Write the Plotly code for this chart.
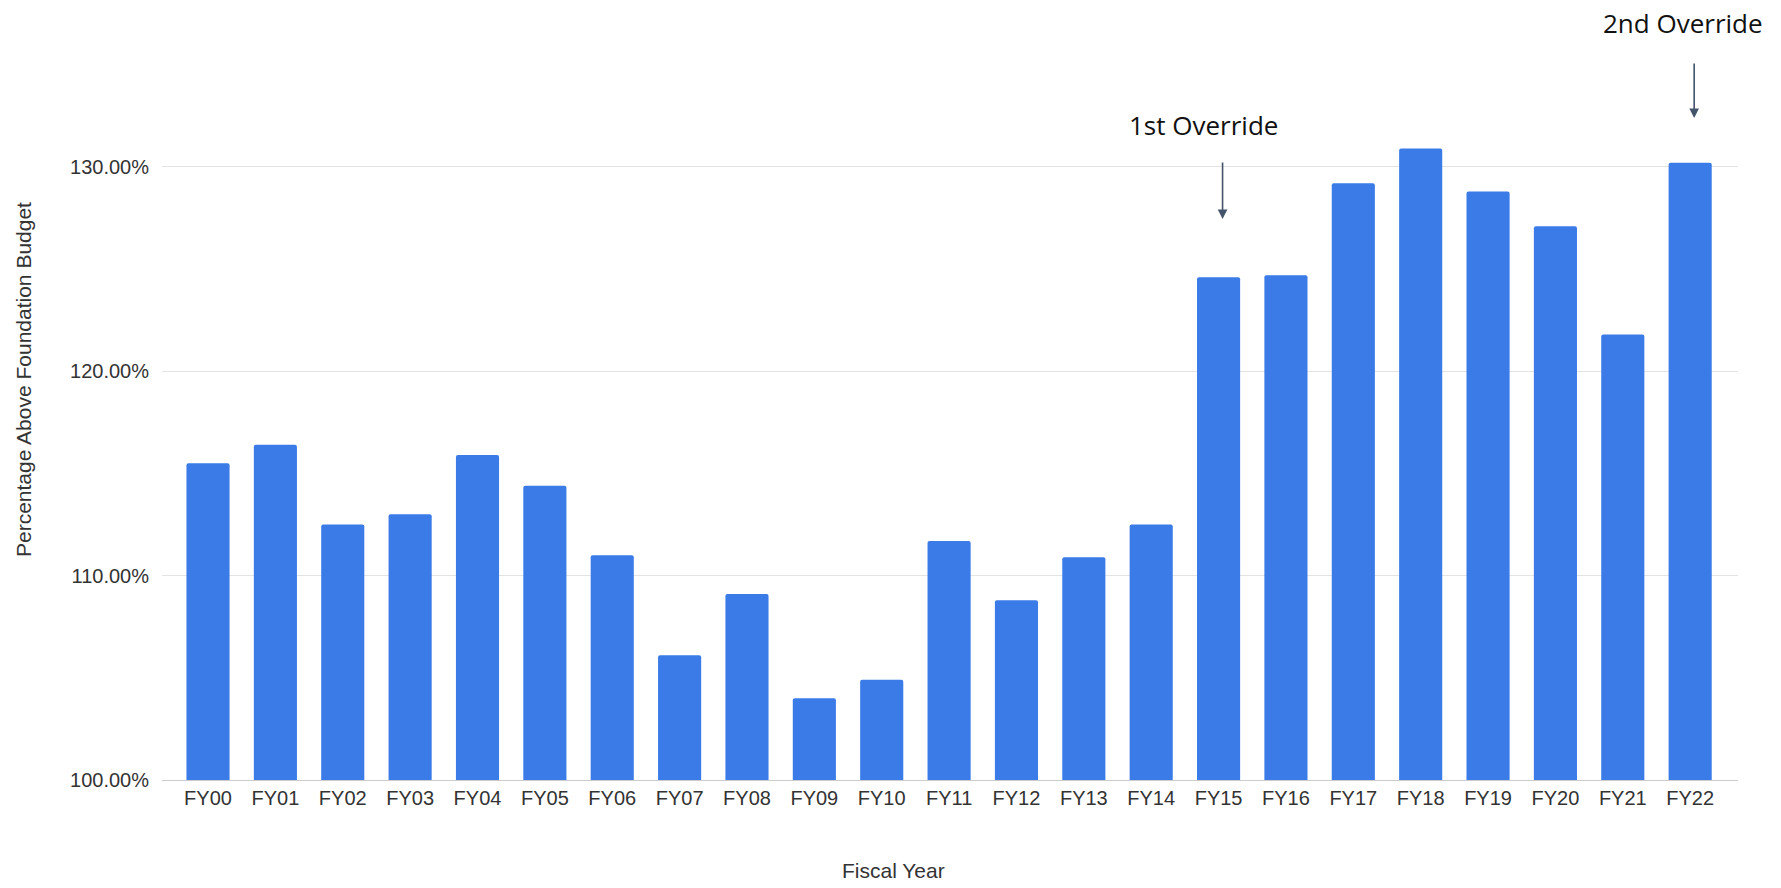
import plotly.graph_objects as go

# Fiscal years and percentage of the foundation budget (in %)
fiscal_years = ["FY00", "FY01", "FY02", "FY03", "FY04", "FY05", "FY06", "FY07",
                "FY08", "FY09", "FY10", "FY11", "FY12", "FY13", "FY14", "FY15",
                "FY16", "FY17", "FY18", "FY19", "FY20", "FY21", "FY22"]
pct_of_foundation = [115.5, 116.4, 112.5, 113.0, 115.9, 114.4, 111.0, 106.1,
                     109.1, 104.0, 104.9, 111.7, 108.8, 110.9, 112.5, 124.6,
                     124.7, 129.2, 130.9, 128.8, 127.1, 121.8, 130.2]

y_ticks = [100, 110, 120, 130]
y_tick_labels = ["100.00%", "110.00%", "120.00%", "130.00%"]

override_years = ["FY15", "FY22"]
override_labels = ["1st Override", "2nd Override"]

BAR_BLUE = "#3B7BE8"
ARROW = "#44546A"

fig = go.Figure(
    go.Bar(
        x=fiscal_years,
        y=pct_of_foundation,
        marker=dict(color=BAR_BLUE, line=dict(width=0), cornerradius=2),
        base=0,
    )
)

W, H = 1781, 888
ml, mr, mt, mb = 162, 43, 126, 108

fig.update_layout(
    width=W,
    height=H,
    margin=dict(l=ml, r=mr, t=mt, b=mb, pad=0),
    paper_bgcolor="white",
    plot_bgcolor="white",
    bargap=0.36,
    showlegend=False,
    font=dict(family="Liberation Sans, Arial, sans-serif", color="#444444"),
)

fig.update_xaxes(
    type="category",
    range=[-0.683, 22.71],
    showgrid=False,
    showline=True,
    linecolor="#CCCCCC",
    linewidth=1,
    ticks="",
    tickfont=dict(size=20, color="#333333"),
)

fig.update_yaxes(
    range=[100, 132],
    tickvals=y_ticks,
    ticktext=y_tick_labels,
    showgrid=True,
    gridcolor="#E3E3E3",
    gridwidth=1,
    zeroline=False,
    showline=False,
    ticks="",
    ticklabelstandoff=12,
    tickfont=dict(size=20, color="#333333"),
)

# Axis titles
fig.add_annotation(
    text="Percentage Above Foundation Budget",
    xref="paper", yref="paper",
    x=(23 - ml) / (W - ml - mr), y=(H - mb - 380) / (H - mt - mb),
    textangle=-90, showarrow=False,
    font=dict(size=21, color="#333333"),
    xanchor="center", yanchor="middle",
)
fig.add_annotation(
    text="Fiscal Year",
    xref="paper", yref="paper",
    x=(893 - ml) / (W - ml - mr), y=(H - mb - 870) / (H - mt - mb),
    showarrow=False,
    font=dict(size=21, color="#333333"),
    xanchor="center", yanchor="middle",
)

# Override markers: label text plus a downward arrow
plot_h = H - mt - mb
label_pos = [(-15, 125), (-7, 23)]       # (x shift px, label centre y px)
arrow_pos = [(161, 219), (62, 118)]      # (tail y px, head y px)
for yr, lbl, (dx, ly), (tail, head) in zip(override_years, override_labels,
                                           label_pos, arrow_pos):
    fig.add_annotation(
        text=lbl, x=yr, xref="x", xshift=dx,
        y=(H - mb - ly) / plot_h, yref="paper",
        showarrow=False,
        font=dict(family="Open Sans, sans-serif", size=26, color="#111111"),
        xanchor="center", yanchor="middle",
    )
    fig.add_annotation(
        text="", x=yr, xref="x", xshift=4,
        y=(H - mb - head) / plot_h, yref="paper",
        showarrow=True, ax=0, ay=-(head - tail),
        arrowhead=2, arrowsize=1.2, arrowwidth=1.6, arrowcolor=ARROW,
    )

fig.write_html("out.html")
